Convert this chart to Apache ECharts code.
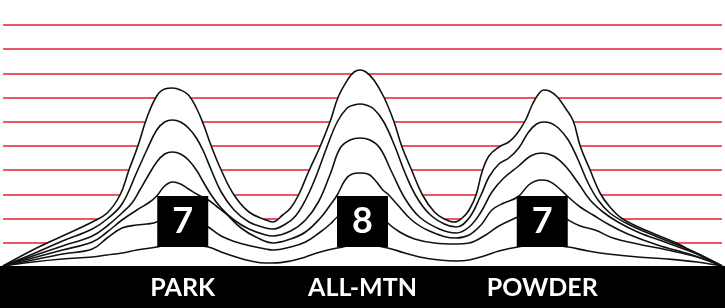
<!DOCTYPE html>
<html>
<head>
<meta charset="utf-8">
<script src="https://cdn.jsdelivr.net/npm/echarts@6/dist/echarts.min.js"></script>
<style>html,body{margin:0;padding:0;background:#fff;}#c{width:725px;height:308px;}</style>
</head>
<body>
<div id="c"></div>
<script>
// Categories and ratings
const categories = ['PARK', 'ALL-MTN', 'POWDER'];
const ratings = [7, 8, 7];

// Ridge lines: [x position, height above baseline], outermost first
const line1 = [[0,1],[30,17],[60,31],[90,45],[105,54],[118,72],[127,97],[136,121],[145,149],[155,171],[163,178],[171,179],[179,177],[187,172],[195,159],[202,143],[210,121],[220,97],[233,72],[248,55],[265,47],[272,45],[282,52],[290,59],[298,72],[308,95],[320,121],[330,146],[338,170],[348,188],[354,195],[360,197],[366,195],[374,187],[384,170],[394,146],[402,121],[412,97],[423,72],[435,55],[445,48],[455,45],[463,49],[470,57],[477,72],[483,95],[490,111],[500,120],[510,125],[518,133],[527,147],[534,163],[540,173],[545,177],[551,176],[559,170],[567,159],[575,146],[582,121],[592,97],[602,74],[612,60],[625,48],[650,36],[679,24],[700,13],[725,1]];
const line2 = [[0,1],[30,13],[60,26],[90,38],[105,48],[120,63],[135,95],[145,117],[155,137],[163,145],[171,147],[179,145],[187,139],[195,129],[202,116],[210,97],[220,75],[233,57],[248,45],[265,39],[272,38],[285,43],[295,51],[305,67],[315,89],[327,121],[337,145],[347,159],[354,162],[360,163],[366,162],[374,158],[384,145],[395,121],[405,95],[417,70],[430,53],[445,43],[457,40],[470,49],[482,72],[490,90],[500,103],[510,109],[520,119],[530,135],[538,143],[545,145],[552,144],[560,139],[570,127],[580,107],[590,84],[600,67],[612,54],[630,43],[660,30],[695,16],[725,1]];
const line3 = [[0,1],[30,11],[60,21],[90,31],[105,41],[120,54],[130,64],[138,77],[145,89],[155,105],[163,113],[171,115],[179,113],[187,107],[195,97],[202,85],[210,72],[220,59],[233,47],[248,38],[265,32],[272,31],[290,36],[305,47],[318,65],[330,93],[340,119],[350,127],[360,129],[370,127],[380,119],[392,95],[405,69],[420,50],[440,38],[457,34],[470,40],[482,55],[493,75],[505,89],[520,101],[532,111],[543,114],[555,111],[567,101],[580,84],[592,67],[605,55],[620,45],[640,35],[670,24],[700,13],[725,1]];
const line4 = [[0,1],[30,9],[60,17],[90,25],[105,35],[120,47],[135,57],[148,65],[155,71],[163,81],[171,85],[179,83],[187,78],[197,72],[207,67],[215,61],[225,53],[240,39],[255,30],[272,24],[290,28],[305,35],[320,49],[330,62],[337,72],[345,87],[352,93],[360,94],[368,93],[375,87],[383,77],[388,73],[398,62],[412,47],[430,36],[457,29],[470,32],[482,42],[493,57],[505,64],[519,70],[530,82],[537,86],[543,87],[550,86],[558,81],[570,70],[582,60],[595,52],[610,43],[630,33],[660,22],[695,12],[725,1]];
const line5 = [[0,1],[30,7],[60,13],[90,18],[105,29],[120,39],[135,42],[145,43],[155,45],[163,52],[171,54],[179,53],[190,49],[200,44],[207,40],[220,31],[235,25],[250,21],[265,18],[272,17],[290,20],[305,25],[320,35],[330,43],[337,50],[350,59],[362,62],[375,59],[388,44],[400,35],[415,28],[435,24],[457,23],[470,24],[485,31],[500,41],[519,50],[530,55],[545,57],[560,54],[570,47],[582,41],[597,37],[615,29],[640,23],[670,17],[700,10],[725,1]];
const line6 = [[0,1],[30,5],[60,8],[90,10],[105,12],[120,14],[135,17],[155,20],[171,23],[190,22],[207,20],[220,15],[235,10],[250,6],[265,4],[272,4],[290,6],[305,10],[320,15],[337,19],[362,23],[388,19],[405,14],[420,10],[440,7],[457,6],[470,7],[485,11],[500,16],[519,20],[545,23],[570,20],[590,16],[610,13],[640,10],[670,8],[700,5],[725,1]];
const lines = [line1, line2, line3, line4, line5, line6];

const W = 725;
const catStep = W / 4;
const boxLevel = 45.5;

const chart = echarts.init(document.getElementById('c'));
const series = lines.map((d, i) => ({
  type: 'line',
  data: d,
  smooth: 0.4,
  symbol: 'none',
  z: 2,
  lineStyle: { color: '#111', width: 1.6 },
  areaStyle: i === 0 ? { color: '#ffffff', opacity: 1 } : undefined
}));
series.push({
  type: 'scatter',
  z: 4,
  symbol: 'rect',
  symbolSize: 51,
  itemStyle: { color: '#000', opacity: 1 },
  emphasis: { disabled: true },
  data: categories.map((c, i) => [(i + 1) * catStep, boxLevel, ratings[i]]),
  label: {
    show: true, position: 'inside',
    formatter: p => String(p.value[2]),
    color: '#fff', fontSize: 36, fontWeight: 'bold', fontFamily: 'Lato, "Open Sans", sans-serif'
  }
});

chart.setOption({
  animation: false,
  backgroundColor: '#fff',
  grid: { left: 0, right: 0, top: 25, bottom: 41 },
  xAxis: {
    type: 'value', min: 0, max: W, interval: catStep, z: 20,
    axisLine: { show: false }, axisTick: { show: false }, splitLine: { show: false },
    axisLabel: {
      margin: 21, verticalAlign: 'middle',
      color: '#fff', fontSize: 25, fontWeight: 'bold', fontFamily: 'Lato, sans-serif',
      formatter: v => categories[Math.round(v / catStep) - 1] || ''
    }
  },
  yAxis: {
    type: 'value', min: 0, max: 242, interval: 24.2,
    axisLine: { show: false }, axisTick: { show: false }, axisLabel: { show: false },
    splitLine: { show: true, lineStyle: { color: '#e4202d', width: 1.5 } }
  },
  graphic: [{
    type: 'rect', z: 10,
    shape: { x: 0, y: 266, width: W, height: 42 },
    style: { fill: '#000' }
  }],
  series: series
});
</script>
</body>
</html>
